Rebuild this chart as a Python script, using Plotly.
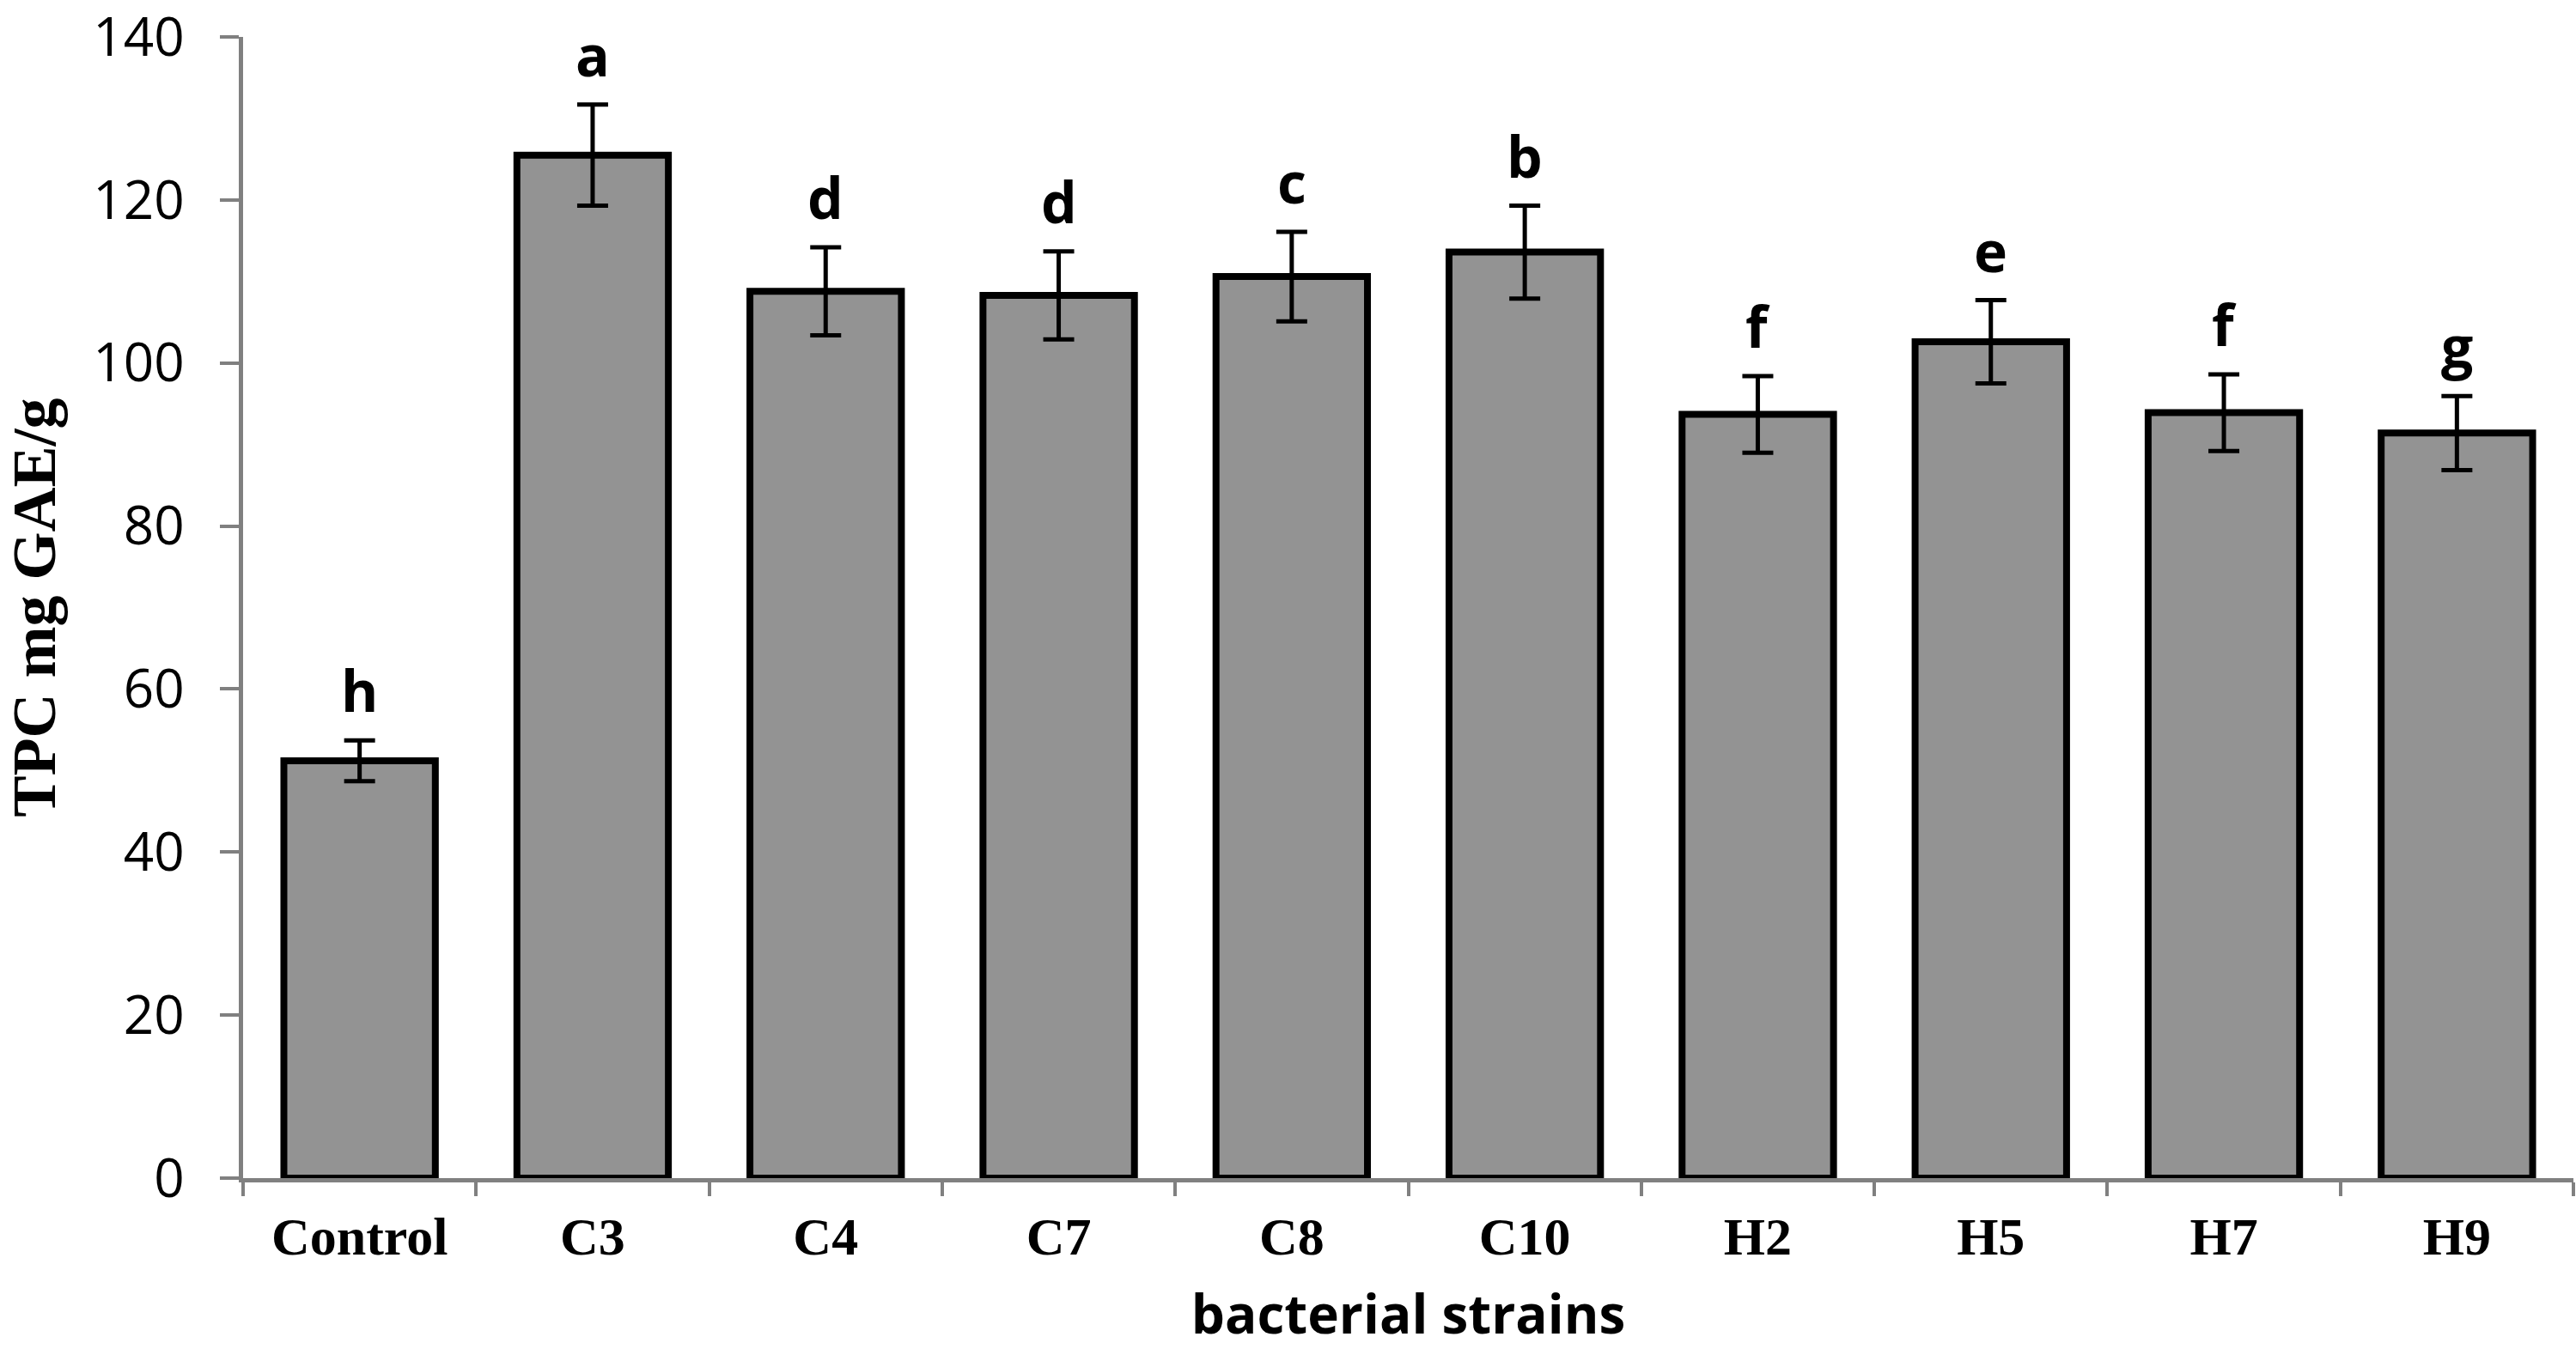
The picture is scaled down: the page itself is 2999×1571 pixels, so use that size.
import plotly.graph_objects as go

strains = ["Control", "C3", "C4", "C7", "C8", "C10", "H2", "H5", "H7", "H9"]
tpc_mean = [51.2, 125.5, 108.8, 108.3, 110.6, 113.6, 93.7, 102.6, 93.9, 91.4]
tpc_err = [2.5, 6.2, 5.4, 5.4, 5.5, 5.7, 4.7, 5.1, 4.7, 4.55]
letters = ["h", "a", "d", "d", "c", "b", "f", "e", "f", "g"]
y_ticks = [0, 20, 40, 60, 80, 100, 120, 140]

GRAY = "#808080"

fig = go.Figure()

fig.add_trace(go.Bar(x=strains,
                     y=tpc_mean,
                     width=0.65,
                     marker=dict(color="#939393", line=dict(color="black", width=8)),
                     error_y=dict(type="data", array=tpc_err, visible=True,
                                  color="black", thickness=5, width=18),
                     showlegend=False))

# significance letters above the error bars
for s, m, e, l in zip(strains, tpc_mean, tpc_err, letters):
    fig.add_annotation(x=s, y=m + e, text=l, showarrow=False,
                       xanchor="center", yanchor="bottom", yshift=12,
                       font=dict(family="Open Sans", size=66, color="black", weight="bold"))

fig.update_xaxes(showline=True, linecolor=GRAY, linewidth=5,
                 ticks="outside", tickson="boundaries", ticklen=16,
                 tickwidth=4, tickcolor=GRAY,
                 tickfont=dict(family="Liberation Serif", size=62, color="black", weight="bold"),
                 ticklabelstandoff=10, automargin=False,
                 title=dict(text="bacterial strains", standoff=40,
                            font=dict(family="Open Sans", size=62, color="black", weight="bold")),
                 showgrid=False, zeroline=False)

fig.update_yaxes(range=[0, 140], tickvals=y_ticks,
                 showline=True, linecolor=GRAY, linewidth=5,
                 ticks="outside", ticklen=22, tickwidth=4, tickcolor=GRAY,
                 tickfont=dict(family="Open Sans", size=62, color="black"),
                 ticklabelstandoff=29, ticklabeloverflow="allow", automargin=False,
                 title=dict(text="TPC mg GAE/g", standoff=32,
                            font=dict(family="Liberation Serif", size=72, color="black", weight="bold")),
                 showgrid=False, zeroline=False)

fig.update_layout(width=2999, height=1571,
                  margin=dict(l=283, r=3, t=43, b=199),
                  plot_bgcolor="white", paper_bgcolor="white",
                  bargap=0.34)

fig.write_html("out.html", config={"displayModeBar": False},
               post_script="document.body.style.margin='0';")
